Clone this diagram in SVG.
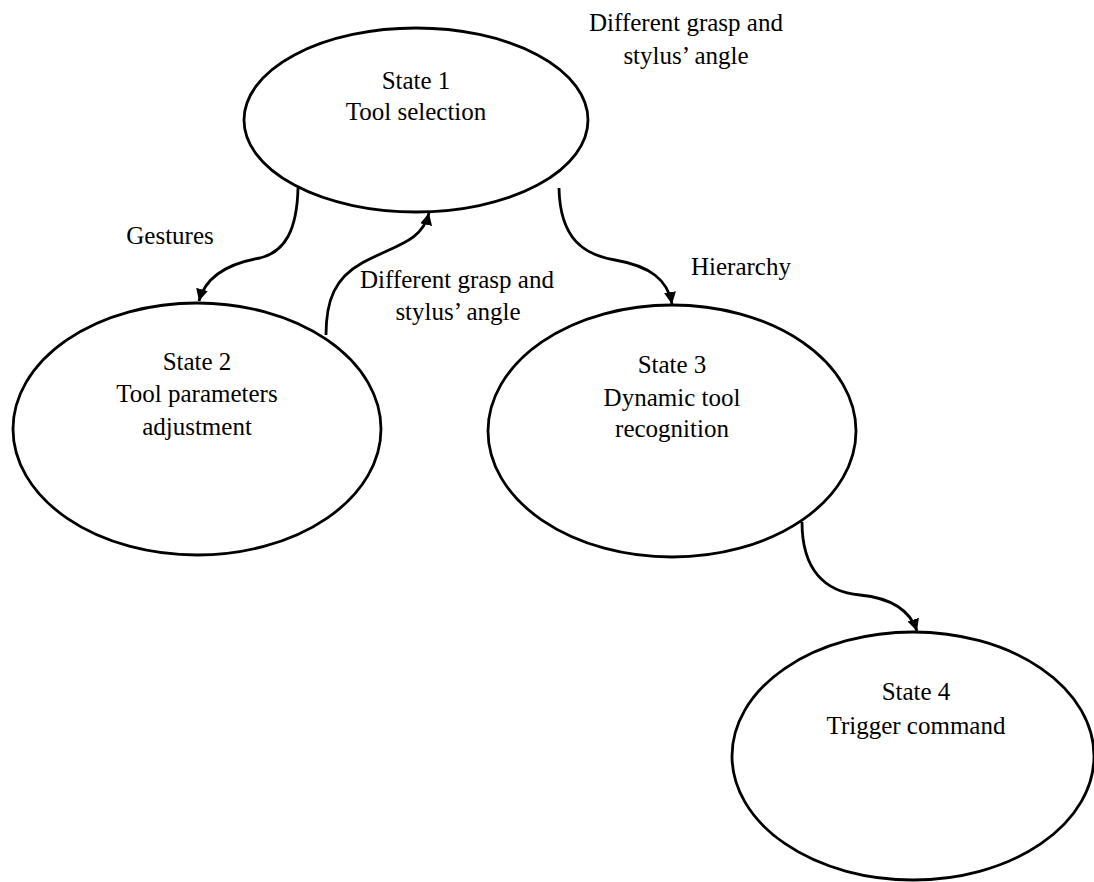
<svg xmlns="http://www.w3.org/2000/svg" width="1094" height="882" viewBox="0 0 1094 882">
<style>
.node{fill:#fff;stroke:#000;stroke-width:2.8}
.t{font-family:'Liberation Serif','DejaVu Serif',serif;font-size:25px;fill:#000;text-anchor:middle}
.c{fill:none;stroke:#000;stroke-width:2.8}
</style>
<defs>
<marker id="ah" markerUnits="userSpaceOnUse" markerWidth="13" markerHeight="12" refX="12" refY="6" orient="auto">
<path d="M0,0 L12,6 L0,12 z" fill="#000"/>
</marker>
</defs>
<rect width="1094" height="882" fill="#fff"/>
<g id="connectors">
<path class="c" d="M298,188 C297,230 285,252 260,258 C225,264 205,278 199,301" marker-end="url(#ah)"/>
<path class="c" d="M326,335 C326,300 335,278 362,263 C395,245 422,242 429,213" marker-end="url(#ah)"/>
<path class="c" d="M559,188 C560,240 585,255 615,260 C650,266 668,280 672,304" marker-end="url(#ah)"/>
<path class="c" d="M802,522 C802,570 825,592 860,595 C890,598 910,610 917,631" marker-end="url(#ah)"/>
</g>
<g id="state1">
<ellipse class="node" cx="416" cy="120" rx="172" ry="92"/>
<text class="t" x="416" y="89">State 1</text>
<text class="t" x="416" y="120">Tool selection</text>
</g>
<g id="state2">
<ellipse class="node" cx="197" cy="429" rx="184" ry="126"/>
<text class="t" x="197" y="370">State 2</text>
<text class="t" x="197" y="402">Tool parameters</text>
<text class="t" x="197" y="435">adjustment</text>
</g>
<g id="state3">
<ellipse class="node" cx="672" cy="431" rx="184" ry="126"/>
<text class="t" x="672" y="373">State 3</text>
<text class="t" x="672" y="406">Dynamic tool</text>
<text class="t" x="672" y="437">recognition</text>
</g>
<g id="state4">
<ellipse class="node" cx="913" cy="756" rx="181" ry="124"/>
<text class="t" x="916" y="700">State 4</text>
<text class="t" x="916" y="734">Trigger command</text>
</g>
<g id="labels">
<text class="t" x="686" y="31">Different grasp and</text>
<text class="t" x="686" y="64">stylus’ angle</text>
<text class="t" x="170" y="244">Gestures</text>
<text class="t" x="457" y="288">Different grasp and</text>
<text class="t" x="458" y="320">stylus’ angle</text>
<text class="t" x="741" y="275">Hierarchy</text>
</g>
</svg>
